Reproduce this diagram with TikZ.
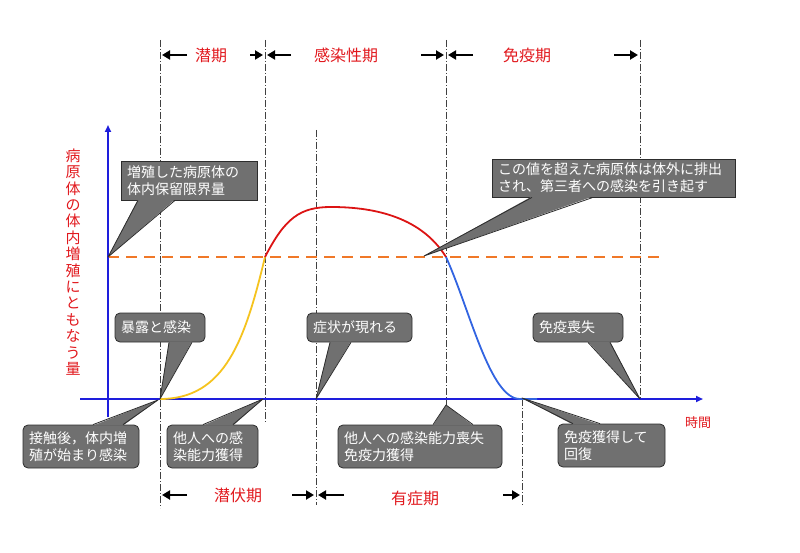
\documentclass[tikz,border=0pt]{standalone}
\usepackage{fontspec}
\setmainfont{Noto Sans CJK JP}
\usetikzlibrary{arrows.meta}

\definecolor{axisblue}{RGB}{30,30,220}
\definecolor{labelred}{RGB}{225,25,30}
\definecolor{limorange}{RGB}{240,120,40}
\definecolor{riseyellow}{RGB}{245,195,30}
\definecolor{peakred}{RGB}{220,20,20}
\definecolor{fallblue}{RGB}{50,100,225}
\definecolor{callfill}{RGB}{112,112,112}
\definecolor{callline}{RGB}{45,45,45}

\begin{document}
\begin{tikzpicture}[
  x=1pt, y=-1pt,
  axis/.style={draw=axisblue, line width=1.8pt, -{Triangle[length=7pt,width=6pt]}},
  guide/.style={draw=black!75, line width=0.7pt, dash pattern=on 7pt off 2pt on 1pt off 2pt},
  period/.style={line width=2.6pt, -{Triangle[length=8pt,width=9pt]}},
  phase/.style={text=labelred, font=\fontsize{16}{18}\selectfont, inner sep=0pt},
  callbox/.style={fill=callfill, draw=callline, line width=0.8pt, text=white, align=left,
                  font=\fontsize{14}{17}\selectfont, inner xsep=6pt, inner ysep=0pt},
  roundbox/.style={callbox, rounded corners=5pt, minimum height=29pt},
  curve/.style={line width=1.8pt}
]
\useasboundingbox (0,0) rectangle (800,553);

% guide lines and periods
\foreach \gx/\gt/\gb in {160/40/508, 265/40/423, 316/130/505, 446/40/405, 522/399/505, 640/40/399}
  \draw[guide] (\gx,\gt) -- (\gx,\gb);

\foreach \xa/\xb in {187/162, 250/263, 291/267, 421/444, 473/448, 614/638}
  \draw[period] (\xa,55) -- (\xb,55);
\foreach \xa/\xb in {187/162, 292/314, 344/318, 503/520}
  \draw[period] (\xa,495) -- (\xb,495);

\node[phase] (latTop) at (211,55) {潜期};
\node[phase] (infTop) at (346,55) {感染性期};
\node[phase] (immTop) at (527,55) {免疫期};
\node[phase] (incBot) at (238,495) {潜伏期};
\node[phase] (symBot) at (415,498) {有症期};

% limit and axes
\draw[limorange, line width=2pt, dash pattern=on 11pt off 7pt] (108,257) -- (665,257);
\draw[axis] (80,399) -- (703,399);
\draw[axis] (108,417) -- (108,125);

\node[text=labelred, font=\fontsize{15}{16.4}\selectfont, align=center, inner sep=0pt] (ylab) at (73,262)
  {病\\原\\体\\の\\体\\内\\増\\殖\\に\\と\\も\\な\\う\\量};
\node[text=labelred, font=\fontsize{13}{15}\selectfont, inner sep=0pt] (tlab) at (698,423) {時間};

% pathogen curve
\draw[curve, riseyellow] (160,399) .. controls (225,399) and (245,340) .. (265,257);
\draw[curve, peakred] (265,257) .. controls (285,218) and (300,207) .. (331,207)
  .. controls (370,207) and (420,215) .. (446,257);
\draw[curve, fallblue] (446,257) .. controls (470,310) and (490,399) .. (520,399) -- (537,399);

% callouts
\coordinate (tipLim) at (108,257);
\coordinate (tipExc) at (424,256);
\coordinate (tipExp) at (160,399);
\coordinate (tipSym) at (316,399);
\coordinate (tipLoss) at (640,399);
\coordinate (tipCont) at (158,400);
\coordinate (tipGain) at (263,399);
\coordinate (tipLose) at (446,405);
\coordinate (tipRec) at (522,398);

\node[callbox, text width=124pt, minimum height=39pt] (lim) at (189,180.5) {増殖した病原体の\\体内保留限界量};
\node[callbox, text width=231pt, minimum height=38pt] (exc) at (613.5,178) {この値を超えた病原体は体外に排出\\され、第三者への感染を引き起す};
\node[roundbox, text width=78pt] (exp) at (160,327.5) {暴露と感染};
\node[roundbox, text width=93pt] (sym) at (359.5,327.5) {症状が現れる};
\node[roundbox, text width=78pt] (loss) at (578,327.5) {免疫喪失};
\node[callbox, rounded corners=5pt, text width=104pt, minimum height=43pt] (cont) at (81,446.5) {接触後，体内増\\殖が始まり感染};
\node[callbox, rounded corners=5pt, text width=79pt, minimum height=43pt] (gain) at (212.5,446.5) {他人への感\\染能力獲得};
\node[callbox, rounded corners=5pt, text width=152pt, minimum height=43pt] (lose) at (420,446.5) {他人への感染能力喪失\\免疫力獲得};
\node[callbox, rounded corners=5pt, text width=95pt, minimum height=43pt] (rec) at (611.5,445.5) {免疫獲得して\\回復};

\foreach \c/\xa/\xb/\t/\s/\d in {lim/-51/-14/tipLim/south/1, exc/-81.5/-20.5/tipExc/south/1,
    exp/9/32/tipExp/south/1, sym/-29.5/-8.5/tipSym/south/1, loss/10/32/tipLoss/south/1,
    cont/12/42/tipCont/north/-1, gain/-9.5/20.5/tipGain/north/-1,
    lose/13/53/tipLose/north/-1, rec/-38.5/-11.5/tipRec/north/-1}
{
  \fill[callfill] ([xshift=\xa pt, yshift=\d pt]\c.\s) -- (\t) -- ([xshift=\xb pt, yshift=\d pt]\c.\s) -- cycle;
  \draw[callline, line width=0.8pt, line join=round] ([xshift=\xa pt]\c.\s) -- (\t) -- ([xshift=\xb pt]\c.\s);
}

\end{tikzpicture}
\end{document}
